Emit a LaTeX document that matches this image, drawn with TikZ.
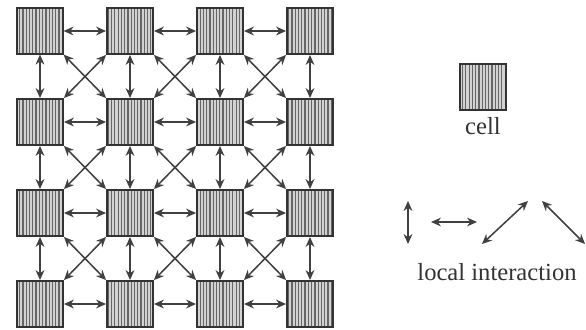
\documentclass[tikz,border=0pt]{standalone}
\usepackage{fontspec}
\setmainfont{Liberation Serif}
\usepackage{tikz}
\usetikzlibrary{positioning, arrows.meta, patterns.meta}

\tikzset{
  cell/.style={draw=black!80, line width=1.6pt, minimum size=1.38cm, inner sep=0pt,
    preaction={fill=gray!35},
    pattern={Lines[angle=90, distance=2.8pt, line width=1pt]}, pattern color=black!60},
  link/.style={{Stealth[length=8.5pt, width=7.5pt]}-{Stealth[length=8.5pt, width=7.5pt]}, line width=1.3pt, black!75},
  caption/.style={font=\fontsize{21}{24}\selectfont, text=black!80}
}

\begin{document}
\begin{tikzpicture}[x=0.03cm, y=-0.03cm]
    \useasboundingbox[fill=white] (0,0) rectangle (586,329);
    % grid of cells
    \foreach \r in {1,...,4}
      \foreach \c in {1,...,4}
        \node[cell] (c\r\c) at ({40+90*(\c-1)}, {31+91*(\r-1)}) {};
    % horizontal and vertical neighbours
    \foreach \r in {1,...,4}
      \foreach \c/\d in {1/2, 2/3, 3/4}
        \draw[link] (c\r\c) -- (c\r\d);
    \foreach \r/\s in {1/2, 2/3, 3/4}
      \foreach \c in {1,...,4}
        \draw[link] (c\r\c) -- (c\s\c);
    % diagonal neighbours
    \foreach \r/\s in {1/2, 2/3, 3/4}
      \foreach \c/\d in {1/2, 2/3, 3/4} {
        \draw[link] (c\r\c.south east) -- (c\s\d.north west);
        \draw[link] (c\r\d.south west) -- (c\s\c.north east);
      }
    % legend
    \node[cell] (key) at (483, 87) {};
    \node[caption, below=2pt of key] (keytext) {cell};
    \coordinate (v1) at (408, 201);
    \coordinate (v2) at (408, 244);
    \coordinate (h1) at (431, 222);
    \coordinate (h2) at (477, 222);
    \coordinate (d1) at (482, 244);
    \coordinate (d2) at (528, 201);
    \coordinate (e1) at (542, 201);
    \coordinate (e2) at (585, 244);
    \draw[link] (v1) -- (v2);
    \draw[link] (h1) -- (h2);
    \draw[link] (d1) -- (d2);
    \draw[link] (e1) -- (e2);
    \node[caption] (inter) at (497, 272) {local interaction};
\end{tikzpicture}
\end{document}
